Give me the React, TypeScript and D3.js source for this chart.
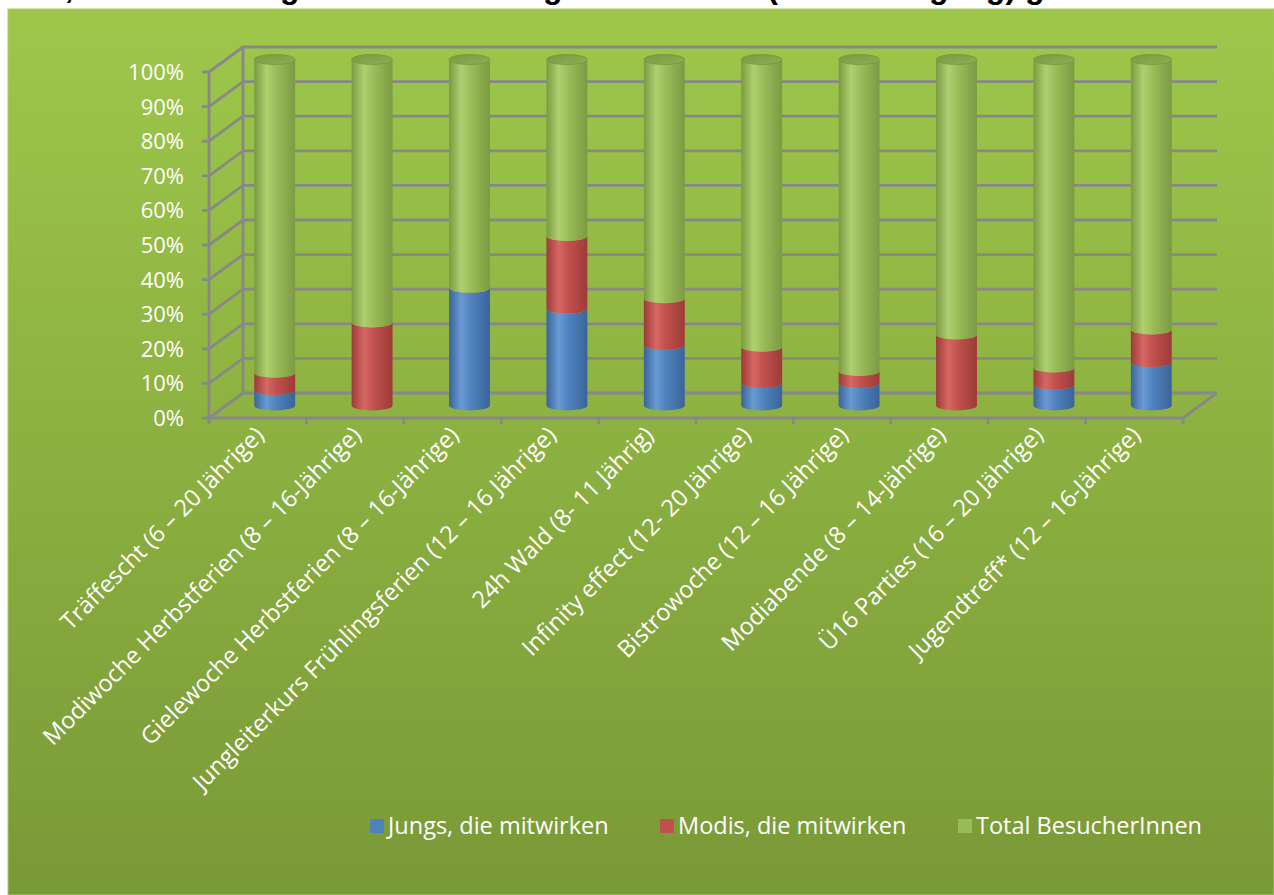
import React, { useEffect, useRef } from 'react';
import * as d3 from 'd3';

const categories = [
  "Träffescht (6 – 20 Jährige)",
  "Modiwoche Herbstferien (8 – 16-Jährige)",
  "Gielewoche Herbstferien (8 – 16-Jährige)",
  "Jungleiterkurs Frühlingsferien (12 – 16 Jährige)",
  "24h Wald (8- 11 Jährig)",
  "Infinity effect (12- 20 Jährige)",
  "Bistrowoche (12 – 16 Jährige)",
  "Modiabende (8 – 14-Jährige)",
  "Ü16 Parties (16 – 20 Jährige)",
  "Jugendtreff* (12 – 16-Jährige)",
];

const seriesNames = ["Jungs, die mitwirken", "Modis, die mitwirken", "Total BesucherInnen"];

// percent shares
const jungs = [4.5, 0, 34, 28, 17.5, 6.5, 6.5, 0, 6, 12.5];
const modis = [5, 24, 0, 21, 13.5, 10.5, 3.5, 20.5, 5, 9.5];
const total = [90.5, 76, 66, 51, 69, 83, 90, 79.5, 89, 78];

const yTicks = [0, 10, 20, 30, 40, 50, 60, 70, 80, 90, 100];

const title = "Projekte, in denen Jungs und Modis mitgewirkt haben (nach Jahrgang) gerechnet in Prozent";

const App: React.FC = () => {
  const ref = useRef<SVGSVGElement | null>(null);

  useEffect(() => {
    if (!ref.current) return;
    const svg = d3.select(ref.current);
    svg.selectAll("*").remove();

    const W = 1274, H = 895;
    const x0 = 209, x1 = 1183, yBase = 418, yTop = 72;
    const dx = 34, dy = -25;
    const fontFam = "'Open Sans', 'DejaVu Sans', sans-serif";

    const defs = svg.append("defs");
    const bg = defs.append("linearGradient").attr("id", "bg").attr("x1", 0).attr("y1", 0).attr("x2", 0).attr("y2", 1);
    bg.append("stop").attr("offset", "0%").attr("stop-color", "#9ec74a");
    bg.append("stop").attr("offset", "100%").attr("stop-color", "#7a9937");

    const colors = ["#4f81bd", "#c0504d", "#9bbb59"];
    const dark = ["#3a6499", "#9c3b38", "#7c9a42"];
    const light = ["#6a9ad3", "#d66763", "#b0cf70"];
    colors.forEach((c, i) => {
      const g = defs.append("linearGradient").attr("id", `cyl${i}`).attr("x1", 0).attr("y1", 0).attr("x2", 1).attr("y2", 0);
      g.append("stop").attr("offset", "0%").attr("stop-color", dark[i]);
      g.append("stop").attr("offset", "30%").attr("stop-color", light[i]);
      g.append("stop").attr("offset", "55%").attr("stop-color", c);
      g.append("stop").attr("offset", "100%").attr("stop-color", dark[i]);
    });
    const capG = defs.append("linearGradient").attr("id", "cap").attr("x1", 0).attr("y1", 0).attr("x2", 1).attr("y2", 1);
    capG.append("stop").attr("offset", "0%").attr("stop-color", "#7a9842");
    capG.append("stop").attr("offset", "100%").attr("stop-color", "#8fb052");

    svg.append("rect").attr("width", W).attr("height", H).attr("fill", "#fff");

    // title sits above the chart area; only its descenders show, as in the source
    svg.append("text")
      .attr("x", 640).attr("y", -2)
      .attr("text-anchor", "middle")
      .attr("font-family", "'Liberation Sans', sans-serif")
      .attr("font-weight", "bold").attr("font-size", 32)
      .attr("fill", "#000")
      .text(title);

    svg.append("rect").attr("x", 8).attr("y", 9).attr("width", W - 8).attr("height", H - 9)
      .attr("fill", "url(#bg)").attr("stroke", "#a9c96a").attr("stroke-width", 1);

    const y = d3.scaleLinear().domain([0, 100]).range([yBase, yTop]);
    const x = d3.scaleBand<string>().domain(categories).range([x0, x1]).padding(0);
    const step = x.step();

    const grid = svg.append("g").attr("stroke", "#888").attr("stroke-width", 2.8).attr("fill", "none");
    yTicks.forEach(t => {
      grid.append("path").attr("d", `M${x0},${y(t)} L${x0 + dx},${y(t) + dy} L${x1 + dx},${y(t) + dy}`);
    });
    grid.append("line").attr("x1", x0 + dx).attr("x2", x0 + dx).attr("y1", y(100) + dy).attr("y2", y(0) + dy);
    grid.append("path").attr("d", `M${x0},${yBase} L${x1},${yBase} L${x1 + dx},${yBase + dy}`);
    grid.append("line").attr("x1", x0).attr("x2", x0).attr("y1", y(100)).attr("y2", y(0) + 5);
    yTicks.forEach(t => {
      grid.append("line").attr("x1", x0 - 7).attr("x2", x0).attr("y1", y(t)).attr("y2", y(t));
    });
    d3.range(categories.length + 1).forEach(i => {
      const xx = x0 + i * step;
      grid.append("line").attr("x1", xx).attr("x2", xx).attr("y1", yBase).attr("y2", yBase + 6);
    });

    svg.append("g").selectAll("text").data(yTicks).join("text")
      .attr("x", 184).attr("y", d => y(d))
      .attr("dy", "0.36em")
      .attr("text-anchor", "end")
      .attr("font-family", fontFam).attr("font-size", 22)
      .attr("fill", "#fff")
      .text(d => `${d}%`);

    // cylinders at mid depth
    const rx = step * 0.21, ry = 5;
    const yb = (v: number) => y(v) + dy / 2;
    const series = [jungs, modis, total];
    const bars = svg.append("g");
    categories.forEach((c, i) => {
      const cx = (x(c) as number) + step / 2 + dx / 2;
      let acc = 0;
      series.forEach((s, k) => {
        const v = s[i];
        if (v <= 0) return;
        const ya = yb(acc), yc = yb(acc + v);
        bars.append("path")
          .attr("d", `M${cx - rx},${yc} A${rx},${ry} 0 0 0 ${cx + rx},${yc} L${cx + rx},${ya} A${rx},${ry} 0 0 1 ${cx - rx},${ya} Z`)
          .attr("fill", `url(#cyl${k})`);
        acc += v;
      });
      bars.append("ellipse").attr("cx", cx).attr("cy", yb(acc)).attr("rx", rx).attr("ry", ry)
        .attr("fill", "url(#cap)").attr("stroke", "#76943e").attr("stroke-width", 0.8);
    });

    svg.append("g").selectAll("text").data(categories).join("text")
      .attr("transform", d => `translate(${(x(d) as number) + step / 2 - 4},${yBase + 7}) rotate(-45)`)
      .attr("text-anchor", "end")
      .attr("dy", "0.7em")
      .attr("font-family", fontFam).attr("font-size", 23.5)
      .attr("fill", "#fff")
      .text(d => d);

    const legendX = [370, 660, 958];
    const lg = svg.append("g").selectAll("g").data(seriesNames).join("g")
      .attr("transform", (d, i) => `translate(${legendX[i]},826)`);
    lg.append("rect").attr("x", 0).attr("y", -7).attr("width", 14).attr("height", 14)
      .attr("fill", (d, i) => colors[i]);
    lg.append("text").attr("x", 18).attr("y", 0).attr("dy", "0.36em")
      .attr("font-family", fontFam).attr("font-size", 23.5).attr("fill", "#fff")
      .text(d => d);
  }, []);

  return (
    <svg ref={ref} width={1274} height={895}
      style={{ position: 'absolute', left: 0, top: 0, display: 'block' }} />
  );
};

export default App;
